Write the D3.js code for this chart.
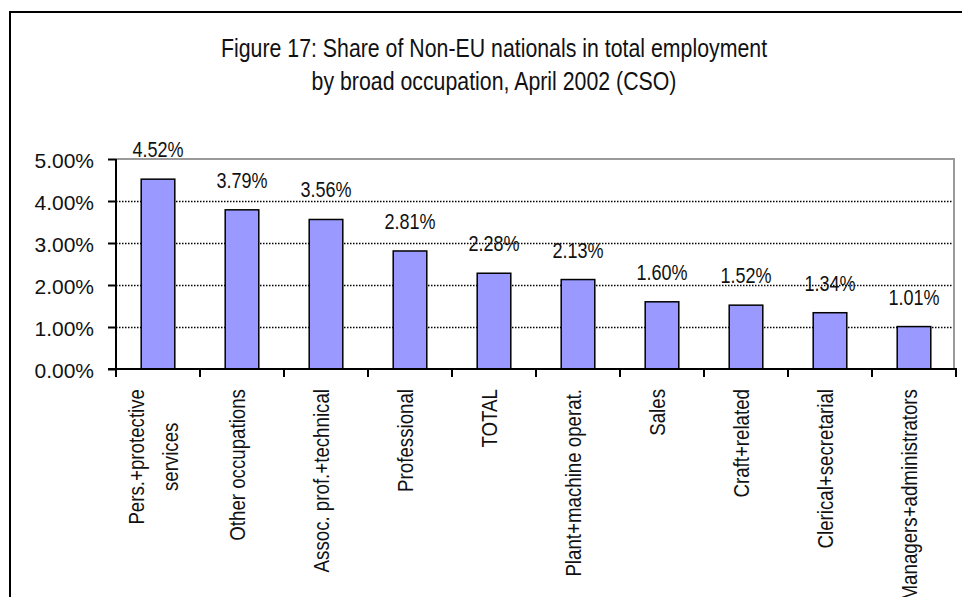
<!DOCTYPE html>
<html>
<head>
<meta charset="utf-8">
<script src="https://cdn.jsdelivr.net/npm/d3@7"></script>
<style>
  html, body { margin: 0; padding: 0; background: #fff; }
  svg { display: block; }
  text { font-family: "Liberation Sans", Arial, sans-serif; }
</style>
</head>
<body>
<svg id="chart" width="962" height="597"></svg>
<script>
// Occupation groups (multi-line labels split on "\n") and their share of Non-EU nationals (%)
const categories = [
  "Pers.+protective\nservices",
  "Other occupations",
  "Assoc. prof.+technical",
  "Professional",
  "TOTAL",
  "Plant+machine operat.",
  "Sales",
  "Craft+related",
  "Clerical+secretarial",
  "Managers+administrators"
];
const shares = [4.52, 3.79, 3.56, 2.81, 2.28, 2.13, 1.60, 1.52, 1.34, 1.01];
const yTicks = [0, 1, 2, 3, 4, 5];
const titleLines = [
  "Figure 17: Share of Non-EU nationals in total employment",
  "by broad occupation, April 2002 (CSO)"
];

// Condensed lettering: regular sans squeezed horizontally
const NARROW = 0.82;
const NARROW_CAT = 0.85;

const svg = d3.select("#chart");
const plot = { left: 116, right: 955, top: 159, bottom: 369 };

// Chart frame
svg.append("rect")
  .attr("x", 10).attr("y", 12)
  .attr("width", 1000).attr("height", 700)
  .attr("fill", "#fff").attr("stroke", "#000").attr("stroke-width", 2);

// Title
svg.append("g")
  .selectAll("text").data(titleLines).join("text")
  .attr("transform", (d, i) => `translate(494,${57 + i * 33}) scale(${NARROW},1)`)
  .attr("text-anchor", "middle")
  .attr("font-size", 26).attr("fill", "#111")
  .text(d => d);

const x = d3.scaleBand()
  .domain(categories)
  .range([plot.left, plot.left + 840])
  .paddingInner(0.6).paddingOuter(0.3);

const y = d3.scaleLinear().domain([0, 5]).range([plot.bottom, plot.top]);

// Dotted gridlines
svg.append("g")
  .selectAll("line").data(yTicks.filter(t => t > 0 && t < 5)).join("line")
  .attr("x1", plot.left).attr("x2", plot.right)
  .attr("y1", d => Math.round(y(d)) + 0.5).attr("y2", d => Math.round(y(d)) + 0.5)
  .attr("stroke", "#000").attr("stroke-width", 1.3)
  .attr("stroke-dasharray", "1.5,1.5");

// Plot area border (top and right)
svg.append("path")
  .attr("d", `M${plot.left},${y(5)}H${plot.right - 1}V${plot.bottom}`)
  .attr("fill", "none").attr("stroke", "#9a9a9a").attr("stroke-width", 2);

// Bars
svg.append("g")
  .selectAll("rect").data(shares).join("rect")
  .attr("x", (d, i) => x(categories[i]))
  .attr("width", x.bandwidth())
  .attr("y", d => y(d))
  .attr("height", d => y(0) - y(d))
  .attr("fill", "#9999FF")
  .attr("stroke", "#000").attr("stroke-width", 1.5);

// Value labels
svg.append("g")
  .selectAll("text").data(shares).join("text")
  .attr("transform", (d, i) =>
    `translate(${x(categories[i]) + x.bandwidth() / 2},${y(d) - 22}) scale(${NARROW},1)`)
  .attr("text-anchor", "middle")
  .attr("font-size", 22).attr("fill", "#111")
  .text(d => d.toFixed(2) + "%");

// Y axis
const yAxis = svg.append("g")
  .attr("transform", `translate(${plot.left},0)`)
  .call(d3.axisLeft(y).tickValues(yTicks).tickSize(8).tickPadding(14)
    .tickFormat(d => d.toFixed(2) + "%"));
yAxis.select(".domain").attr("stroke", "#000").attr("stroke-width", 2)
  .attr("d", `M0,${plot.top}V${plot.bottom}`);
yAxis.selectAll(".tick line").attr("stroke", "#000").attr("stroke-width", 2);
yAxis.selectAll(".tick text")
  .attr("font-family", "'Liberation Sans', Arial, sans-serif")
  .attr("font-size", 21).attr("fill", "#111").attr("dy", "0.42em");

// X axis line with category boundary ticks
const bounds = d3.range(categories.length + 1).map(i => plot.left + i * x.step());
const xAxis = svg.append("g");
xAxis.append("line")
  .attr("x1", plot.left - 8).attr("x2", bounds[bounds.length - 1] + 1)
  .attr("y1", plot.bottom).attr("y2", plot.bottom)
  .attr("stroke", "#000").attr("stroke-width", 2);
xAxis.selectAll("line.tick").data(bounds).join("line")
  .attr("class", "tick")
  .attr("x1", d => d).attr("x2", d => d)
  .attr("y1", plot.bottom).attr("y2", plot.bottom + 8)
  .attr("stroke", "#000").attr("stroke-width", 2);

// Rotated category labels, multi-line blocks centred on their longest line
const catG = svg.append("g");
categories.forEach((c, i) => {
  const lines = c.split("\n");
  const cx = x(c) + x.bandwidth() / 2;
  const g = catG.append("g");
  const texts = lines.map(ln => g.append("text")
    .attr("font-size", 22).attr("fill", "#111")
    .attr("text-anchor", "middle")
    .text(ln));
  const maxLen = d3.max(texts, t => t.node().getComputedTextLength()) * NARROW_CAT;
  const cy = 389 + maxLen / 2;
  texts.forEach((t, j) => {
    const bx = cx + 3 + (j - (lines.length - 1) / 2) * 34;
    t.attr("transform", `translate(${bx},${cy}) rotate(-90) scale(${NARROW_CAT},1)`);
  });
});
</script>
</body>
</html>
